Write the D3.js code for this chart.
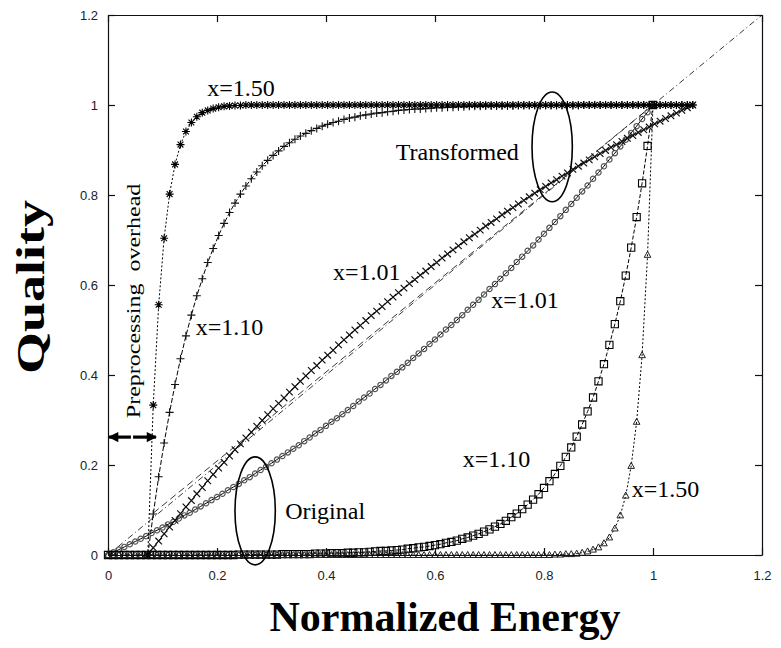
<!DOCTYPE html>
<html>
<head>
<meta charset="utf-8">
<script src="https://cdn.jsdelivr.net/npm/d3@7"></script>
<style>
body { margin: 0; background: #fff; }
svg { display: block; background: #fff; }
.tick text { font-family: "Liberation Sans", Arial, sans-serif; font-size: 13px; fill: #222; }
.tick line, .domain { stroke: #111; stroke-width: 1.2; }
.note { font-family: "Liberation Serif", "Times New Roman", serif; font-size: 24px; fill: #000; }
.title { font-family: "Liberation Serif", "Times New Roman", serif; font-weight: bold; fill: #000; }
</style>
</head>
<body>
<script>
// normalized energy grid (fraction of the work done)
var energy = [0,0.01,0.02,0.03,0.04,0.05,0.06,0.07,0.08,0.09,
  0.10,0.11,0.12,0.13,0.14,0.15,0.16,0.17,0.18,0.19,
  0.20,0.21,0.22,0.23,0.24,0.25,0.26,0.27,0.28,0.29,
  0.30,0.31,0.32,0.33,0.34,0.35,0.36,0.37,0.38,0.39,
  0.40,0.41,0.42,0.43,0.44,0.45,0.46,0.47,0.48,0.49,
  0.50,0.51,0.52,0.53,0.54,0.55,0.56,0.57,0.58,0.59,
  0.60,0.61,0.62,0.63,0.64,0.65,0.66,0.67,0.68,0.69,
  0.70,0.71,0.72,0.73,0.74,0.75,0.76,0.77,0.78,0.79,
  0.80,0.81,0.82,0.83,0.84,0.85,0.86,0.87,0.88,0.89,
  0.90,0.91,0.92,0.93,0.94,0.95,0.96,0.97,0.98,0.99,1.00];

// preprocessing overhead that shifts the transformed curves to the right
var overhead = 0.073;

// original curves
var origQ101 = [0,0.006,0.012,0.018,0.024,0.030,0.036,0.042,0.049,0.055,
  0.061,0.068,0.074,0.081,0.088,0.094,0.101,0.108,0.115,0.122,
  0.129,0.136,0.144,0.151,0.158,0.166,0.173,0.181,0.189,0.196,
  0.204,0.212,0.220,0.228,0.236,0.244,0.253,0.261,0.270,0.278,
  0.287,0.296,0.304,0.313,0.322,0.331,0.341,0.350,0.359,0.369,
  0.378,0.388,0.398,0.407,0.417,0.427,0.438,0.448,0.458,0.469,
  0.479,0.490,0.501,0.511,0.522,0.533,0.545,0.556,0.567,0.579,
  0.591,0.602,0.614,0.626,0.638,0.651,0.663,0.676,0.688,0.701,
  0.714,0.727,0.740,0.753,0.767,0.780,0.794,0.808,0.821,0.836,
  0.850,0.864,0.879,0.893,0.908,0.923,0.938,0.953,0.969,0.984,1];
var origQ110 = [0,0,0,0,0,0,0,0,0,0,
  0,0,0,0,0,0,0,0,0,0,
  0,0,0,0,0.001,0.001,0.001,0.001,0.001,0.001,
  0.001,0.001,0.002,0.002,0.002,0.002,0.002,0.002,0.003,0.003,
  0.003,0.004,0.004,0.004,0.005,0.005,0.006,0.006,0.007,0.008,
  0.009,0.009,0.010,0.011,0.012,0.014,0.015,0.017,0.018,0.020,
  0.022,0.024,0.027,0.029,0.032,0.036,0.039,0.043,0.047,0.052,
  0.057,0.063,0.069,0.076,0.084,0.092,0.102,0.112,0.123,0.135,
  0.149,0.164,0.180,0.198,0.218,0.239,0.263,0.290,0.319,0.350,
  0.386,0.424,0.467,0.513,0.564,0.621,0.683,0.751,0.826,0.909,1];
var origQ150 = [0,0,0,0,0,0,0,0,0,0,
  0,0,0,0,0,0,0,0,0,0,
  0,0,0,0,0,0,0,0,0,0,
  0,0,0,0,0,0,0,0,0,0,
  0,0,0,0,0,0,0,0,0,0,
  0,0,0,0,0,0,0,0,0,0,
  0,0,0,0,0,0,0,0,0,0,
  0,0,0,0,0,0,0,0,0,0,
  0,0,0.001,0.001,0.002,0.002,0.003,0.005,0.008,0.012,
  0.017,0.026,0.039,0.059,0.088,0.132,0.198,0.296,0.444,0.667,1];

// transformed curves
var transQ101 = [0,0.016,0.031,0.047,0.062,0.077,0.092,0.107,0.121,0.136,
  0.150,0.165,0.179,0.193,0.206,0.220,0.234,0.247,0.260,0.273,
  0.286,0.299,0.312,0.325,0.337,0.349,0.362,0.374,0.386,0.398,
  0.410,0.421,0.433,0.444,0.455,0.467,0.478,0.489,0.500,0.510,
  0.521,0.532,0.542,0.552,0.563,0.573,0.583,0.593,0.603,0.612,
  0.622,0.631,0.641,0.650,0.660,0.669,0.678,0.687,0.696,0.705,
  0.713,0.722,0.731,0.739,0.747,0.756,0.764,0.772,0.780,0.788,
  0.796,0.804,0.812,0.819,0.827,0.834,0.842,0.849,0.857,0.864,
  0.871,0.878,0.885,0.892,0.899,0.906,0.912,0.919,0.926,0.932,
  0.939,0.945,0.951,0.958,0.964,0.970,0.976,0.982,0.988,0.994,1];
var transQ110 = [0,0.091,0.174,0.249,0.317,0.379,0.436,0.487,0.533,0.576,
  0.614,0.650,0.681,0.710,0.737,0.761,0.782,0.802,0.820,0.836,
  0.851,0.865,0.877,0.888,0.898,0.908,0.916,0.924,0.931,0.937,
  0.943,0.948,0.953,0.957,0.961,0.964,0.968,0.971,0.973,0.976,
  0.978,0.980,0.982,0.983,0.985,0.986,0.988,0.989,0.990,0.991,
  0.991,0.992,0.993,0.994,0.994,0.995,0.995,0.996,0.996,0.997,
  0.997,0.997,0.998,0.998,0.998,0.998,0.998,0.998,0.999,0.999,
  0.999,0.999,0.999,0.999,0.999,0.999,0.999,0.999,0.999,0.999,
  1,1,1,1,1,1,1,1,1,1,
  1,1,1,1,1,1,1,1,1,1,1];
var transQ150 = [0,0.333,0.556,0.704,0.802,0.868,0.912,0.941,0.961,0.974,
  0.983,0.988,0.992,0.995,0.997,0.998,0.999,0.999,1,1,
  1,1,1,1,1,1,1,1,1,1,
  1,1,1,1,1,1,1,1,1,1,
  1,1,1,1,1,1,1,1,1,1,
  1,1,1,1,1,1,1,1,1,1,
  1,1,1,1,1,1,1,1,1,1,
  1,1,1,1,1,1,1,1,1,1,
  1,1,1,1,1,1,1,1,1,1,
  1,1,1,1,1,1,1,1,1,1,1];

// straight reference lines
var diagE = [0, 1.2], diagQ = [0, 1.2];
var shiftedE = [0.083, 1.0], shiftedQ = [0.093, 1.0];

var axisTicks = [0, 0.2, 0.4, 0.6, 0.8, 1, 1.2];

// curve labels [text, E, Q]
var curveLabels = [
  ["x=1.50", 0.182, 1.02],
  ["Transformed", 0.528, 0.878],
  ["x=1.01", 0.413, 0.611],
  ["x=1.01", 0.703, 0.549],
  ["x=1.10", 0.161, 0.489],
  ["x=1.10", 0.651, 0.196],
  ["x=1.50", 0.961, 0.129],
  ["Original", 0.325, 0.081]
];
// ellipses [cE, cQ, rE, rQ]
var groupRings = [[0.815, 0.907, 0.037, 0.122], [0.27, 0.098, 0.037, 0.12]];

function run_d3 () {

    var width = 781, height = 648;

    var svg = d3.select("body").append("svg")
        .attr("width", width)
        .attr("height", height);

    var x = d3.scaleLinear().domain([0, 1.2]).range([108, 762]);
    var y = d3.scaleLinear().domain([0, 1.2]).range([555, 15]);

    // marker shapes
    function markerPath(type) {
        if (type == "cross") return "M-3.3,-3.3L3.3,3.3M-3.3,3.3L3.3,-3.3";
        if (type == "plus") return "M-4,0H4M0,-4V4";
        if (type == "star") return "M-4,0H4M0,-4V4M-2.9,-2.9L2.9,2.9M-2.9,2.9L2.9,-2.9";
        if (type == "box") return "M-3.6,-3.6H3.6V3.6H-3.6Z";
        if (type == "tri") return "M0,-3.5L3.3,2.5H-3.3Z";
        return d3.symbol(d3.symbolCircle, 22)();
    }

    var series = [
        { q: origQ101, shift: 0, marker: "circle", dash: null, color: "#555", w: 1.2 },
        { q: origQ110, shift: 0, marker: "box", dash: "4,2", color: "#000", w: 1.1 },
        { q: origQ150, shift: 0, marker: "tri", dash: "2,2", color: "#222", w: 1 },
        { q: transQ101, shift: overhead, marker: "cross", dash: null, color: "#111", w: 1.2 },
        { q: transQ110, shift: overhead, marker: "plus", dash: "5,2", color: "#111", w: 1.1 },
        { q: transQ150, shift: overhead, marker: "star", dash: "2,2", color: "#000", w: 1.1 }
    ];

    var line = d3.line()
        .x(function(d) { return x(d[0]); })
        .y(function(d) { return y(d[1]); });

    // reference lines
    svg.append("path")
        .datum(d3.zip(diagE, diagQ))
        .attr("d", line)
        .attr("fill", "none")
        .attr("stroke", "#222")
        .attr("stroke-width", 0.9)
        .attr("stroke-dasharray", "6,3,1,3");
    svg.append("path")
        .datum(d3.zip(shiftedE, shiftedQ))
        .attr("d", line)
        .attr("fill", "none")
        .attr("stroke", "#222")
        .attr("stroke-width", 0.9)
        .attr("stroke-dasharray", "7,4");

    series.forEach(function(s) {
        var pts = energy.map(function(e, i) { return [e + s.shift, s.q[i]]; });
        var g = svg.append("g");
        g.append("path")
            .datum(pts)
            .attr("d", line)
            .attr("fill", "none")
            .attr("stroke", "#000")
            .attr("stroke-width", 1)
            .attr("stroke-dasharray", s.dash);
        g.selectAll("path.pt")
            .data(pts)
            .enter()
            .append("path")
            .attr("class", "pt")
            .attr("d", markerPath(s.marker))
            .attr("transform", function(d) { return "translate(" + x(d[0]) + "," + y(d[1]) + ")"; })
            .attr("fill", "none")
            .attr("stroke", s.color)
            .attr("stroke-width", s.w);
    });

    // frame with inward ticks on all four sides
    svg.append("g")
        .attr("transform", "translate(0,555)")
        .call(d3.axisBottom(x).tickValues(axisTicks).tickFormat(d3.format("~g")).tickSizeInner(-7).tickSizeOuter(0).tickPadding(16));
    svg.append("g")
        .attr("transform", "translate(108,0)")
        .call(d3.axisLeft(y).tickValues(axisTicks).tickFormat(d3.format("~g")).tickSizeInner(-7).tickSizeOuter(0).tickPadding(10));
    svg.append("g")
        .attr("transform", "translate(0,15)")
        .call(d3.axisTop(x).tickValues(axisTicks).tickFormat("").tickSizeInner(-7).tickSizeOuter(0));
    svg.append("g")
        .attr("transform", "translate(762,0)")
        .call(d3.axisRight(y).tickValues(axisTicks).tickFormat("").tickSizeInner(-7).tickSizeOuter(0));

    // ellipses around the groups
    svg.selectAll("ellipse.ring")
        .data(groupRings)
        .enter()
        .append("ellipse")
        .attr("class", "ring")
        .attr("cx", function(d) { return x(d[0]); })
        .attr("cy", function(d) { return y(d[1]); })
        .attr("rx", function(d) { return x(d[2]) - x(0); })
        .attr("ry", function(d) { return y(0) - y(d[3]); })
        .attr("fill", "none")
        .attr("stroke", "#000")
        .attr("stroke-width", 1.6);

    svg.selectAll("text.note")
        .data(curveLabels)
        .enter()
        .append("text")
        .attr("class", "note")
        .attr("x", function(d) { return x(d[1]); })
        .attr("y", function(d) { return y(d[2]); })
        .text(function(d) { return d[0]; });

    // preprocessing overhead annotation
    svg.append("text")
        .attr("class", "note")
        .attr("transform", "translate(" + x(0.058) + "," + y(0.304) + ") rotate(-90) scale(1,0.78)")
        .style("white-space", "pre")
        .text("Preprocessing  overhead");

    var defs = svg.append("defs");
    defs.append("marker")
        .attr("id", "head")
        .attr("viewBox", "0 0 10 10")
        .attr("refX", 9).attr("refY", 5)
        .attr("markerWidth", 4).attr("markerHeight", 3.2)
        .attr("orient", "auto-start-reverse")
        .append("path")
        .attr("d", "M0,0L10,5L0,10Z")
        .attr("fill", "#000");
    svg.append("line")
        .attr("x1", x(0.002)).attr("x2", x(0.042))
        .attr("y1", y(0.262)).attr("y2", y(0.262))
        .attr("stroke", "#000").attr("stroke-width", 3.2)
        .attr("marker-start", "url(#head)");
    svg.append("line")
        .attr("x1", x(0.046)).attr("x2", x(0.088))
        .attr("y1", y(0.262)).attr("y2", y(0.262))
        .attr("stroke", "#000").attr("stroke-width", 3.2)
        .attr("marker-end", "url(#head)");

    // axis titles
    svg.append("text")
        .attr("class", "title")
        .attr("x", 445).attr("y", 631)
        .attr("text-anchor", "middle")
        .style("font-size", "42px")
        .text("Normalized Energy");
    svg.append("text")
        .attr("class", "title")
        .attr("transform", "translate(44,287) rotate(-90) scale(1,0.73)")
        .attr("text-anchor", "middle")
        .style("font-size", "54px")
        .text("Quality");
}

window.onload = run_d3;
</script>
</body>
</html>
